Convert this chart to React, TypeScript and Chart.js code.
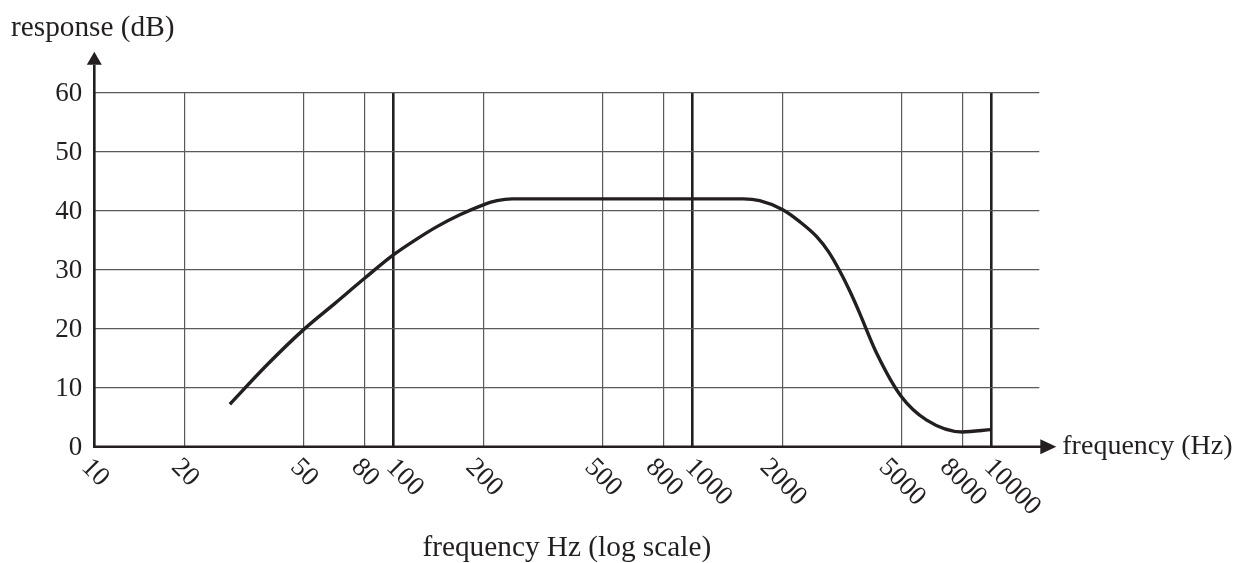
import React, { useEffect, useRef } from 'react';
import { Chart, registerables } from 'chart.js';

Chart.register(...registerables);

// ---- data ----
const FREQ_HZ = [28.4, 37.7, 50, 63.8, 80, 100, 119, 140, 167, 200, 222, 250, 500, 1000, 1480, 1680, 2000, 2292, 2606, 2850, 3119, 3369, 3589, 4140, 5000, 6080, 8000, 10000];
const RESPONSE_DB = [7.2, 13.8, 19.8, 24.3, 28.5, 32.5, 35.1, 37.3, 39.3, 41.0, 41.7, 42, 42, 42, 42, 41.7, 40.2, 38.1, 35.6, 33.1, 29.7, 26.3, 23.2, 15.8, 8.5, 4.5, 2.5, 2.9];
const X_TICKS = [10, 20, 50, 80, 100, 200, 500, 800, 1000, 2000, 5000, 8000, 10000];
const X_TICK_LABELS = ['10', '20', '50', '80', '100', '200', '500', '800', '1000', '2000', '5000', '8000', '10000'];
const MAJOR_TICKS = [100, 1000, 10000];
const Y_TICKS = [0, 10, 20, 30, 40, 50, 60];
const Y_TICK_LABELS = ['0', '10', '20', '30', '40', '50', '60'];
const Y_TITLE = 'response (dB)';
const X_TITLE = 'frequency (Hz)';
const X_SUBTITLE = 'frequency Hz (log scale)';

// ---- styling ----
const INK = '#231f20';
const GRID = '#5a5a5a';
const FONT_FAMILY = '"Liberation Serif", "Times New Roman", serif';
const TICK_SIZE = 27;
const TITLE_SIZE = 28;
const BIG_TITLE_SIZE = 29.3;
const X_MIN = 10;
const X_MAX = Math.pow(10, 1 + 945 / 299);

const decorPlugin = {
  id: 'decor',
  afterDraw(chart: any) {
    const { ctx, chartArea: a, scales } = chart;
    const xs = scales.x;
    const ys = scales.y;
    const x0 = xs.getPixelForValue(X_MIN);
    const y0 = ys.getPixelForValue(0);
    ctx.save();
    ctx.strokeStyle = INK;
    ctx.fillStyle = INK;
    ctx.lineWidth = 2.6;
    ctx.lineJoin = 'miter';
    // axes
    ctx.beginPath();
    ctx.moveTo(x0, a.top - 28);
    ctx.lineTo(x0, y0);
    ctx.lineTo(a.right + 2, y0);
    ctx.stroke();
    // y arrow
    ctx.beginPath();
    ctx.moveTo(x0, a.top - 41);
    ctx.lineTo(x0 - 7.5, a.top - 28);
    ctx.lineTo(x0 + 7.5, a.top - 28);
    ctx.closePath();
    ctx.fill();
    // x arrow
    ctx.beginPath();
    ctx.moveTo(a.right + 17, y0);
    ctx.lineTo(a.right + 1, y0 - 7.5);
    ctx.lineTo(a.right + 1, y0 + 7.5);
    ctx.closePath();
    ctx.fill();

    // y tick labels
    ctx.font = `${TICK_SIZE}px ${FONT_FAMILY}`;
    ctx.textAlign = 'right';
    ctx.textBaseline = 'middle';
    Y_TICKS.forEach((v, i) => {
      ctx.fillText(Y_TICK_LABELS[i], x0 - 12, ys.getPixelForValue(v) + 1);
    });

    // x tick labels, rotated 45deg clockwise
    const digitH = 0.66 * TICK_SIZE;
    X_TICKS.forEach((v, i) => {
      const label = X_TICK_LABELS[i];
      const px = xs.getPixelForValue(v);
      const w = ctx.measureText(label).width;
      const box = (w + digitH) * Math.SQRT1_2;
      const cy = y0 + 9 + box / 2;
      const cx = MAJOR_TICKS.includes(v) ? px - 8 + box / 2 : px + 2;
      ctx.save();
      ctx.translate(cx, cy);
      ctx.rotate(Math.PI / 4);
      ctx.textAlign = 'center';
      ctx.textBaseline = 'alphabetic';
      ctx.fillText(label, 0, digitH / 2);
      ctx.restore();
    });

    // titles
    ctx.textBaseline = 'middle';
    ctx.textAlign = 'left';
    ctx.font = `${BIG_TITLE_SIZE}px ${FONT_FAMILY}`;
    ctx.fillText(Y_TITLE, 11, a.top - 64);
    ctx.font = `${TITLE_SIZE}px ${FONT_FAMILY}`;
    ctx.fillText(X_TITLE, a.right + 23, y0);
    ctx.textAlign = 'center';
    ctx.font = `${BIG_TITLE_SIZE}px ${FONT_FAMILY}`;
    ctx.fillText(X_SUBTITLE, (a.left + a.right) / 2, a.bottom + 102);
    ctx.restore();
  },
};

export default function App() {
  const canvasRef = useRef<HTMLCanvasElement | null>(null);

  useEffect(() => {
    if (!canvasRef.current) return;
    const chart = new Chart(canvasRef.current, {
      type: 'line',
      data: {
        datasets: [
          {
            data: FREQ_HZ.map((f, i) => ({ x: f, y: RESPONSE_DB[i] })),
            borderColor: INK,
            borderWidth: 3.4,
            pointRadius: 0,
            cubicInterpolationMode: 'monotone',
            fill: false,
          },
        ],
      },
      options: {
        animation: false,
        responsive: false,
        devicePixelRatio: 1,
        layout: { padding: { left: 94.3, right: 197.7, top: 92.7, bottom: 116.3 } },
        plugins: { legend: { display: false }, tooltip: { enabled: false }, title: { display: false } },
        scales: {
          x: {
            type: 'logarithmic',
            min: X_MIN,
            max: X_MAX,
            afterBuildTicks: (scale: any) => {
              scale.ticks = X_TICKS.map((v) => ({ value: v }));
            },
            ticks: { display: false },
            border: { display: false },
            grid: {
              drawTicks: false,
              color: (c: any) => (c.tick && MAJOR_TICKS.includes(c.tick.value) ? INK : GRID),
              lineWidth: (c: any) => (c.tick && MAJOR_TICKS.includes(c.tick.value) ? 2.6 : 1.2),
            },
          },
          y: {
            type: 'linear',
            min: 0,
            max: 60,
            afterBuildTicks: (scale: any) => {
              scale.ticks = Y_TICKS.map((v) => ({ value: v }));
            },
            ticks: { display: false },
            border: { display: false },
            grid: { drawTicks: false, color: GRID, lineWidth: 1.2 },
          },
        },
      },
      plugins: [decorPlugin],
    } as any);
    return () => chart.destroy();
  }, []);

  return (
    <div style={{ position: 'fixed', left: 0, top: 0, width: 1237, height: 563, background: '#fff' }}>
      <canvas ref={canvasRef} width={1237} height={563} style={{ display: 'block' }} />
    </div>
  );
}
